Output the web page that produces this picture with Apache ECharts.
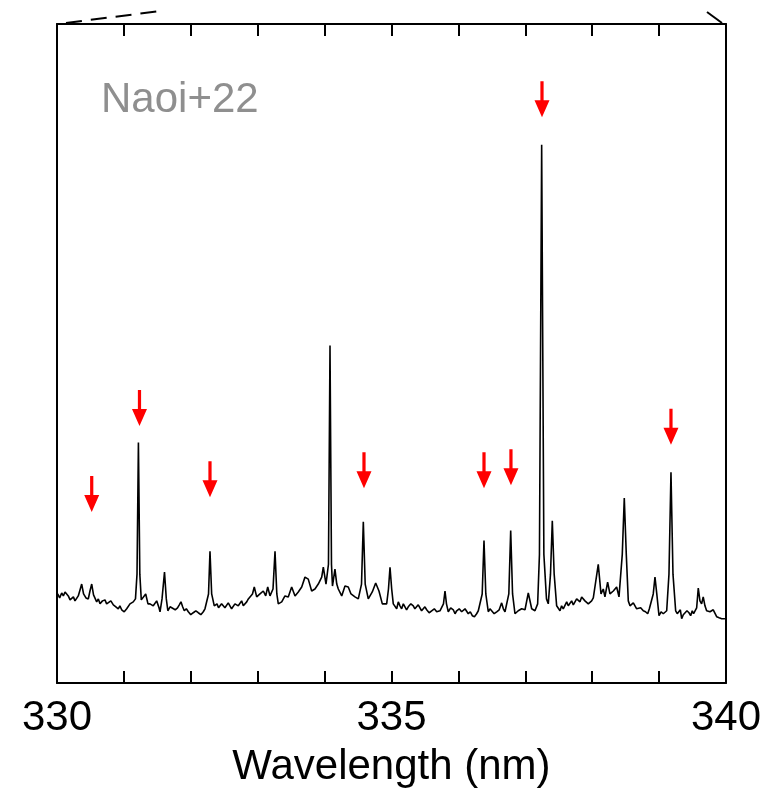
<!DOCTYPE html>
<html>
<head>
<meta charset="utf-8">
<script src="https://cdn.jsdelivr.net/npm/echarts@6/dist/echarts.min.js"></script>
<style>
html,body{margin:0;padding:0;background:#fff;}
#chart{width:764px;height:793px;}
</style>
</head>
<body>
<div id="chart"></div>
<script>
// Wavelength (nm) of each spectrum sample
var wavelength = [
330.010,330.040,330.070,330.095,330.120,330.145,330.169,330.195,330.220,330.245,330.269,330.318,330.344,330.369,330.397,
330.433,330.468,330.493,330.519,330.546,330.593,330.618,330.643,330.680,330.717,330.742,330.767,330.805,
330.842,330.880,330.916,330.940,330.967,331.005,331.042,331.065,331.091,331.115,331.140,331.173,331.196,331.217,331.238,
331.260,331.285,331.326,331.360,331.390,331.439,331.490,331.525,331.540,331.570,
331.607,331.634,331.657,331.690,331.717,331.767,331.802,331.828,331.853,331.878,331.903,331.933,331.963,
332.000,332.037,332.075,332.112,332.150,332.187,332.212,332.238,332.265,332.287,332.312,332.351,332.392,332.415,332.436,
332.460,332.481,332.510,332.537,332.560,332.586,332.610,332.636,332.660,332.686,332.710,332.735,332.760,332.785,332.810,332.836,332.860,332.885,332.922,
332.949,332.985,333.034,333.084,333.120,333.150,333.184,333.229,333.259,333.286,
333.308,333.359,333.408,333.457,333.508,333.558,333.607,333.658,333.707,333.756,
333.807,333.856,333.906,333.957,333.981,334.021,334.058,334.081,334.103,334.118,
334.155,334.182,334.205,334.256,334.305,334.354,334.395,334.454,334.504,334.552,
334.579,334.607,334.653,334.713,334.764,334.813,334.863,334.928,334.955,334.978,
335.003,335.027,335.078,335.102,335.127,335.152,335.177,335.202,335.226,335.251,335.290,335.326,335.350,335.377,335.400,335.426,
335.450,335.475,335.500,335.526,335.563,335.601,335.640,335.676,335.700,335.725,335.777,335.800,335.822,335.849,335.885,335.924,
335.950,335.975,336.012,336.049,336.075,336.099,336.122,336.148,336.178,336.208,336.240,336.273,336.298,336.323,336.356,336.383,336.410,
336.447,336.472,336.498,336.535,336.573,336.610,336.647,336.672,336.697,336.754,336.782,336.810,336.846,336.895,
336.946,336.996,337.045,337.096,337.145,337.185,337.212,337.245,337.278,337.317,
337.344,337.377,337.404,337.432,337.469,337.494,337.519,337.543,337.568,337.594,337.619,337.643,337.668,337.693,
337.718,337.743,337.768,337.792,337.818,337.843,337.868,337.892,337.917,337.942,337.967,337.992,338.017,338.042,338.091,338.132,338.166,
338.191,338.231,338.266,338.316,338.366,338.401,338.450,338.480,338.510,338.540,
338.565,338.590,338.615,338.640,338.665,338.689,338.725,338.764,338.797,338.830,338.855,338.879,338.913,338.939,338.966,338.999,
339.030,339.063,339.090,339.114,339.148,339.178,339.208,339.248,339.272,339.297,339.318,339.338,339.362,339.387,339.417,339.447,
339.472,339.496,339.516,339.537,339.562,339.586,339.611,339.636,339.660,339.686,339.711,339.736,339.761,339.786,339.810,339.835,339.861,339.898,339.936,
339.960,339.985
];
// Relative intensity (arbitrary units), one per wavelength
var intensity = [
90,86,91,88,92,93,88,84,85,87,83,88,94,100,90,
86,85,93,100,89,82,85,80,83,84,80,81,83,
79,77,75,78,74,72,75,77,80,78,82,85,110,243,110,
84,84,90,80,80,78,83,76,72,85,
112,85,73,77,79,74,76,79,82,77,73,75,72,
69,71,73,71,69,72,75,73,90,133,90,78,80,76,78,
80,81,76,78,81,79,75,77,80,82,78,80,83,78,79,82,85,83,90,
97,87,90,93,88,97,88,95,133,90,
80,82,88,87,97,88,92,97,107,105,
93,95,100,107,117,100,120,341,120,98,
115,100,95,88,98,97,90,87,85,100,
163,100,85,92,101,93,80,80,95,117,
95,80,75,82,78,75,80,78,74,77,80,78,75,77,79,77,
73,75,77,74,71,73,75,72,70,73,80,93,80,72,76,74,
70,73,75,72,70,75,73,70,72,68,67,70,73,72,90,144,90,
72,75,73,70,72,74,81,75,72,90,154,90,70,73,
75,74,91,75,73,80,130,544,130,85,
80,110,164,110,78,76,73,78,75,76,82,78,80,83,
79,81,85,84,82,87,86,83,84,80,81,83,86,88,120,90,95,
87,102,90,93,97,87,130,187,130,83,
78,80,81,78,75,77,76,73,72,70,75,73,90,107,90,68,
72,70,69,73,110,213,110,73,70,72,74,65,69,70,73,71,
68,73,70,72,76,96,83,80,87,78,73,75,72,70,74,72,67,66,65,
67,65
];
// Marked lines (red arrows): wavelength and arrow-centre height
var arrowWavelength = [330.519, 331.233, 332.287, 334.589, 336.383, 336.786, 337.250, 339.178];
var arrowLevel = [191, 278, 206, 215, 215, 218, 590, 259];

var xTicks = [330, 335, 340];
var sourceLabel = 'Naoi+22';
var xName = 'Wavelength (nm)';

var spectrum = wavelength.map(function(w, i){ return [w, intensity[i]]; });
var arrows = arrowWavelength.map(function(w, i){ return [w, arrowLevel[i]]; });

var FONT = '"Liberation Sans", Arial, Helvetica, sans-serif';
var chart = echarts.init(document.getElementById('chart'), null, {renderer:'canvas'});
chart.setOption({
  animation:false,
  backgroundColor:'#ffffff',
  grid:{left:57, right:38, top:24, bottom:103, containLabel:false},
  xAxis:[{
    type:'value', position:'bottom', min:330, max:340, interval:1,
    name:xName, nameLocation:'middle', nameGap:63,
    nameTextStyle:{fontFamily:FONT, fontSize:42, color:'#000'},
    axisLine:{show:true, onZero:false, lineStyle:{color:'#000', width:2}},
    axisTick:{show:true, inside:true, length:12, lineStyle:{color:'#000', width:2}},
    axisLabel:{show:true, margin:14, fontFamily:FONT, fontSize:42, color:'#000',
      formatter:function(v){ return xTicks.indexOf(v) >= 0 ? String(v) : ''; }},
    splitLine:{show:false}
  },{
    type:'value', position:'top', min:330, max:340, interval:1,
    axisLine:{show:true, onZero:false, lineStyle:{color:'#000', width:2}},
    axisTick:{show:true, inside:true, length:12, lineStyle:{color:'#000', width:2}},
    axisLabel:{show:false}, splitLine:{show:false}
  }],
  yAxis:[{
    type:'value', position:'left', min:0, max:666,
    axisLine:{show:true, onZero:false, lineStyle:{color:'#000', width:2}},
    axisTick:{show:false}, axisLabel:{show:false}, splitLine:{show:false}
  },{
    type:'value', position:'right', min:0, max:666,
    axisLine:{show:true, onZero:false, lineStyle:{color:'#000', width:2}},
    axisTick:{show:false}, axisLabel:{show:false}, splitLine:{show:false}
  }],
  graphic:[
    {type:'text', left:101, top:79, style:{text:sourceLabel, font:'42px ' + FONT, fill:'#8f8f8f'}},
    {type:'line', shape:{x1:66, y1:23, x2:160, y2:11}, style:{stroke:'#000', lineWidth:2, lineDash:[16,9]}},
    {type:'line', shape:{x1:707, y1:12, x2:722, y2:23}, style:{stroke:'#000', lineWidth:2}}
  ],
  series:[{
    type:'line', data:spectrum, xAxisIndex:0, yAxisIndex:0,
    showSymbol:false, symbol:'none',
    lineStyle:{color:'#000', width:1.6}, smooth:false
  },{
    type:'scatter', data:arrows, xAxisIndex:0, yAxisIndex:0,
    symbol:'path://M5.5 0 L8.5 0 L8.5 19 L14 19 L7 36 L0 19 L5.5 19 Z',
    symbolSize:[15,36], itemStyle:{color:'#ff0000', opacity:1}
  }]
});
</script>
</body>
</html>
